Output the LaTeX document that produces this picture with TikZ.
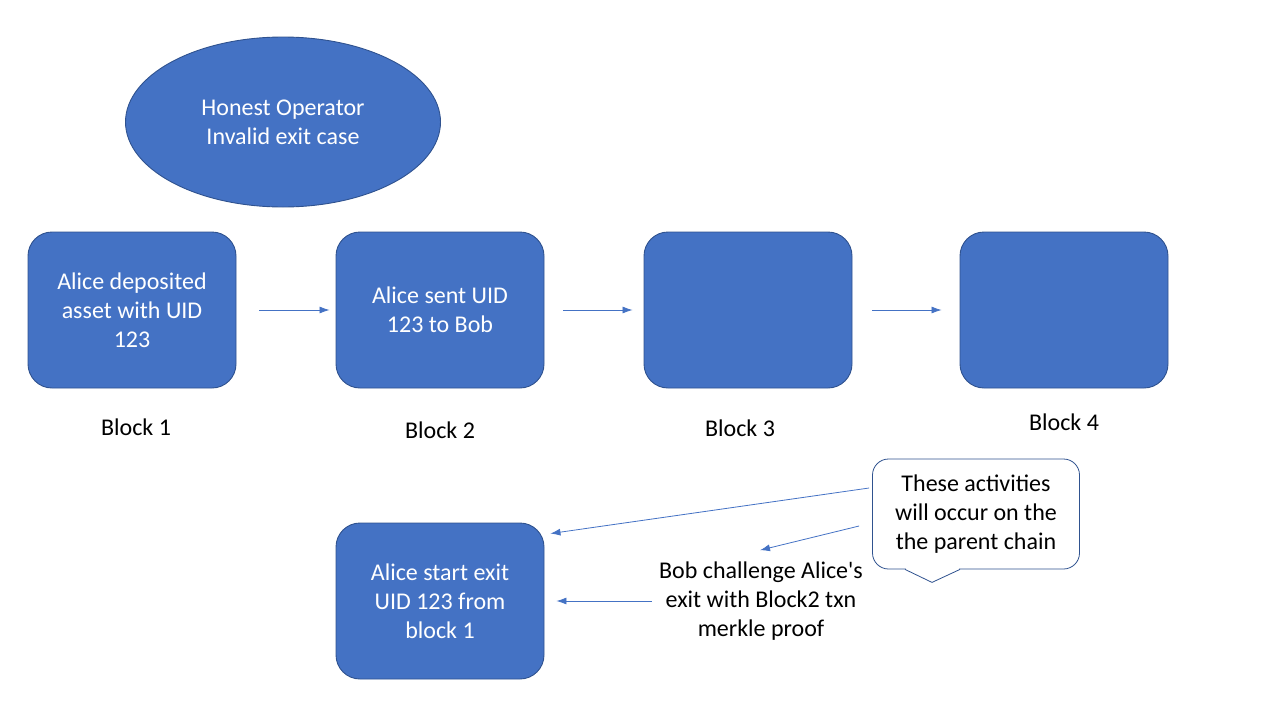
\documentclass[tikz,border=0pt]{standalone}
\usepackage{fontspec}
\setmainfont{Carlito}
\usetikzlibrary{shapes.geometric,arrows.meta}
\definecolor{boxblue}{HTML}{4472C4}
\definecolor{boxline}{HTML}{2F528F}

\begin{document}
\begin{tikzpicture}[x=1pt,y=-1pt]
\tikzset{block/.style = {shape=rectangle,rounded corners=24pt,draw=boxline,fill=boxblue,line width=0.9pt,minimum width=208pt,minimum height=156pt,text=white,align=center,font=\fontsize{24}{29}\selectfont}}
\tikzset{oval/.style = {shape=ellipse,draw=boxline,fill=boxblue,line width=0.9pt,minimum width=315pt,minimum height=170pt,inner sep=0pt,text=white,align=center,font=\fontsize{24}{29}\selectfont}}
\tikzset{caption/.style = {align=center,font=\fontsize{24}{29}\selectfont}}
\tikzset{note/.style = {shape=rectangle,rounded corners=16pt,draw=boxline,fill=white,line width=0.8pt,minimum width=207pt,minimum height=110pt,align=center,font=\fontsize{24}{29}\selectfont}}
\tikzset{link/.style = {->,>={Latex[length=10pt,width=7pt]},draw=boxblue,line width=0.8pt}}
\useasboundingbox (0,0) rectangle (1280,720);
% title
\node[oval] (title) at (283,122) {Honest Operator\\Invalid exit case};
% blocks
\node[block] (b1) at (132,310) {Alice deposited\\asset with UID\\123};
\node[block] (b2) at (440,310) {Alice sent UID\\123 to Bob};
\node[block] (b3) at (748,310) {};
\node[block] (b4) at (1064,310) {};
\node[caption] (c1) at (136,427) {Block 1};
\node[caption] (c2) at (440,430) {Block 2};
\node[caption] (c3) at (740,428) {Block 3};
\node[caption] (c4) at (1064,422) {Block 4};
% parent chain
\node[block] (exit) at (440,601) {Alice start exit\\UID 123 from\\block 1};
\node[caption] (bob) at (761,601) {Bob challenge Alice\textquotesingle s\\exit with Block2 txn\\merkle proof};
\node[note] (note) at (976,514) {\raisebox{-3pt}{\parbox{200pt}{\centering These activities\\will occur on the\\the parent chain}}};
\fill[white] ([shift={(-70,-1.5)}]note.south) rectangle ([shift={(-17,1.5)}]note.south);
\draw[boxline,line width=0.8pt] ([shift={(-71,0)}]note.south) -- ([shift={(-44,13)}]note.south) -- ([shift={(-16,0)}]note.south);
%edges
\path[link] ([xshift=23pt]b1.east) -- ([xshift=-6pt]b2.west);
\path[link] ([xshift=19pt]b2.east) -- ([xshift=-11pt]b3.west);
\path[link] ([xshift=20pt]b3.east) -- ([xshift=-18pt]b4.west);
\path[link] ([shift={(-3,-26)}]note.west) -- ([shift={(6,11)}]exit.north east);
\path[link] ([shift={(-13,12)}]note.west) -- ([shift={(-1,-8)}]bob.north);
\path[link] ([xshift=-4pt]bob.west) -- ([xshift=12pt]exit.east);

\end{tikzpicture}
\end{document}
